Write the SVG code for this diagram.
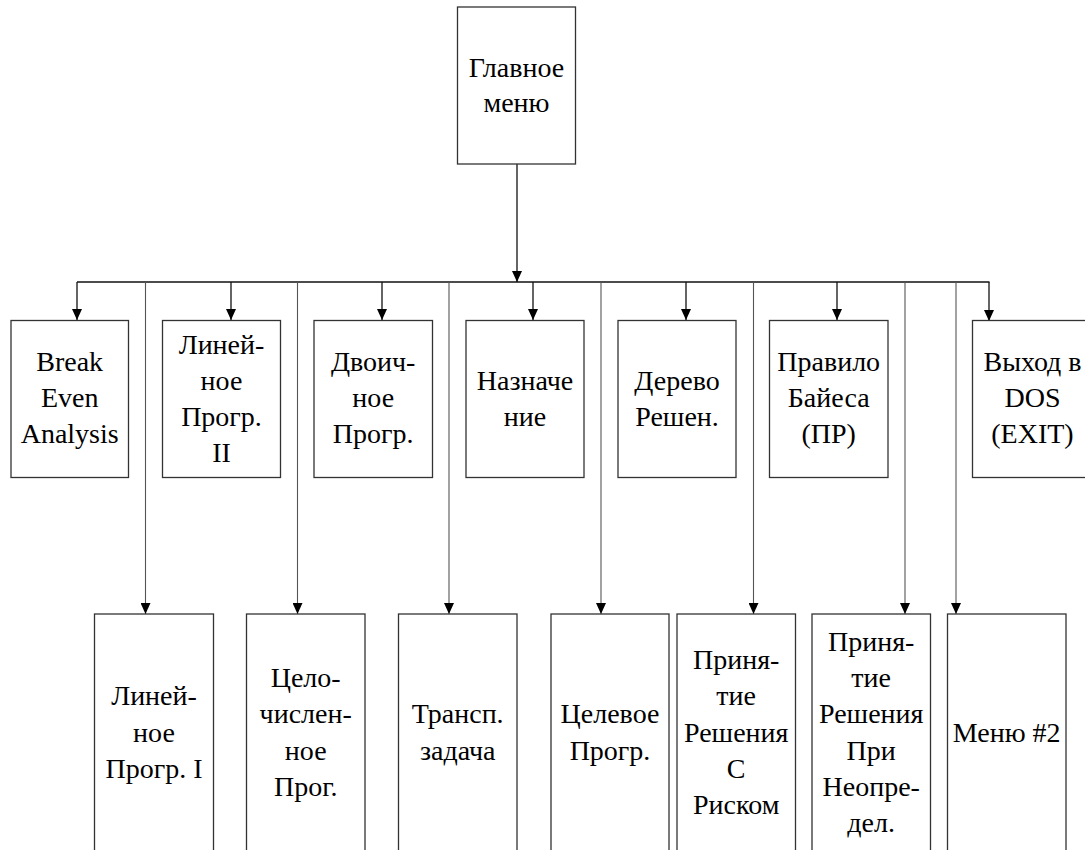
<svg xmlns="http://www.w3.org/2000/svg" width="1085" height="850" viewBox="0 0 1085 850">
  <style>
    .box { fill: #fff; stroke: #333; stroke-width: 1.3; }
    .lbl { font-family: "Liberation Serif", "Times New Roman", serif; font-size: 28px; fill: #000; text-anchor: middle; }
    .arr { fill: none; stroke: #111; stroke-width: 1.3; marker-end: url(#head); }
    .drop { fill: none; stroke: #555; stroke-width: 1.1; marker-end: url(#head); }
    .bus { fill: none; stroke: #111; stroke-width: 1.6; }
  </style>
  <defs>
    <marker id="head" viewBox="0 0 11 10" markerWidth="11" markerHeight="10" refX="11" refY="5" orient="auto" markerUnits="userSpaceOnUse">
      <path d="M0,0 L11,5 L0,10 z" fill="#000"/>
    </marker>
  </defs>

  <!-- connectors -->
  <g id="connectors">
    <line class="arr" x1="517" y1="164" x2="517" y2="282"/>
    <line class="bus" x1="77" y1="282" x2="989.5" y2="282"/>
    <!-- short arrows to the upper row -->
    <line class="arr" x1="77" y1="282" x2="77" y2="320"/>
    <line class="arr" x1="231" y1="282" x2="231" y2="320"/>
    <line class="arr" x1="382" y1="282" x2="382" y2="320"/>
    <line class="arr" x1="533" y1="282" x2="533" y2="320"/>
    <line class="arr" x1="686" y1="282" x2="686" y2="320"/>
    <line class="arr" x1="837" y1="282" x2="837" y2="320"/>
    <line class="arr" x1="989" y1="282" x2="989" y2="321"/>
    <!-- long drops to the lower row -->
    <line class="drop" x1="145.5" y1="282" x2="145.5" y2="614"/>
    <line class="drop" x1="297.5" y1="282" x2="297.5" y2="614"/>
    <line class="drop" x1="449" y1="282" x2="449" y2="614"/>
    <line class="drop" x1="601" y1="282" x2="601" y2="614"/>
    <line class="drop" x1="753.5" y1="282" x2="753.5" y2="614"/>
    <line class="drop" x1="905" y1="282" x2="905" y2="614"/>
    <line class="drop" x1="956" y1="282" x2="956" y2="614"/>
  </g>

  <!-- root -->
  <g id="main-menu">
    <rect class="box" x="457.5" y="7" width="118" height="157"/>
    <text class="lbl"><tspan x="516.5" y="77">Главное</tspan><tspan x="516.5" y="112">меню</tspan></text>
  </g>

  <!-- upper row -->
  <g id="break-even">
    <rect class="box" x="11" y="320.5" width="117.5" height="157"/>
    <text class="lbl"><tspan x="69.7" y="370.5">Break</tspan><tspan x="69.7" y="407">Even</tspan><tspan x="69.7" y="443.3">Analysis</tspan></text>
  </g>
  <g id="lp2">
    <rect class="box" x="162.5" y="320.5" width="118" height="157"/>
    <text class="lbl"><tspan x="221.5" y="353.5">Линей-</tspan><tspan x="221.5" y="389.8">ное</tspan><tspan x="221.5" y="426">Прогр.</tspan><tspan x="221.5" y="462.3">II</tspan></text>
  </g>
  <g id="binary">
    <rect class="box" x="314" y="320.5" width="118.5" height="157"/>
    <text class="lbl"><tspan x="373.2" y="370.5">Двоич-</tspan><tspan x="373.2" y="407">ное</tspan><tspan x="373.2" y="443.3">Прогр.</tspan></text>
  </g>
  <g id="assignment">
    <rect class="box" x="466" y="320.5" width="118" height="157"/>
    <text class="lbl"><tspan x="525" y="390">Назначе</tspan><tspan x="525" y="426.3">ние</tspan></text>
  </g>
  <g id="decision-tree">
    <rect class="box" x="618" y="320.5" width="118" height="157"/>
    <text class="lbl"><tspan x="677" y="390">Дерево</tspan><tspan x="677" y="426.3">Решен.</tspan></text>
  </g>
  <g id="bayes">
    <rect class="box" x="769.5" y="320.5" width="118.5" height="157"/>
    <text class="lbl"><tspan x="828.7" y="370.5">Правило</tspan><tspan x="828.7" y="407">Байеса</tspan><tspan x="828.7" y="443.3">(ПР)</tspan></text>
  </g>
  <g id="exit">
    <rect class="box" x="972.5" y="320.5" width="120" height="157"/>
    <text class="lbl"><tspan x="1032.5" y="370.5">Выход в</tspan><tspan x="1032.5" y="407">DOS</tspan><tspan x="1032.5" y="443.3">(EXIT)</tspan></text>
  </g>

  <!-- lower row -->
  <g id="lp1">
    <rect class="box" x="94.5" y="614" width="119" height="240"/>
    <text class="lbl"><tspan x="154" y="705.2">Линей-</tspan><tspan x="154" y="741.5">ное</tspan><tspan x="154" y="777.8">Прогр. I</tspan></text>
  </g>
  <g id="integer">
    <rect class="box" x="246.5" y="614" width="118.5" height="240"/>
    <text class="lbl"><tspan x="305.7" y="687">Цело-</tspan><tspan x="305.7" y="723.3">числен-</tspan><tspan x="305.7" y="759.6">ное</tspan><tspan x="305.7" y="796">Прог.</tspan></text>
  </g>
  <g id="transport">
    <rect class="box" x="398.5" y="614" width="118.5" height="240"/>
    <text class="lbl"><tspan x="457.7" y="723.3">Трансп.</tspan><tspan x="457.7" y="759.6">задача</tspan></text>
  </g>
  <g id="goal">
    <rect class="box" x="551" y="614" width="118" height="240"/>
    <text class="lbl"><tspan x="610" y="723.3">Целевое</tspan><tspan x="610" y="759.6">Прогр.</tspan></text>
  </g>
  <g id="risk">
    <rect class="box" x="677" y="614" width="118.5" height="240"/>
    <text class="lbl"><tspan x="736.2" y="668.9">Приня-</tspan><tspan x="736.2" y="705.2">тие</tspan><tspan x="736.2" y="741.5">Решения</tspan><tspan x="736.2" y="777.8">С</tspan><tspan x="736.2" y="814.1">Риском</tspan></text>
  </g>
  <g id="uncertainty">
    <rect class="box" x="812" y="614" width="118.5" height="240"/>
    <text class="lbl"><tspan x="871.2" y="650.8">Приня-</tspan><tspan x="871.2" y="687">тие</tspan><tspan x="871.2" y="723.3">Решения</tspan><tspan x="871.2" y="759.6">При</tspan><tspan x="871.2" y="796">Неопре-</tspan><tspan x="871.2" y="832.2">дел.</tspan></text>
  </g>
  <g id="menu2">
    <rect class="box" x="947.5" y="614" width="118.5" height="240"/>
    <text class="lbl"><tspan x="1006.7" y="741.5">Меню #2</tspan></text>
  </g>
</svg>
